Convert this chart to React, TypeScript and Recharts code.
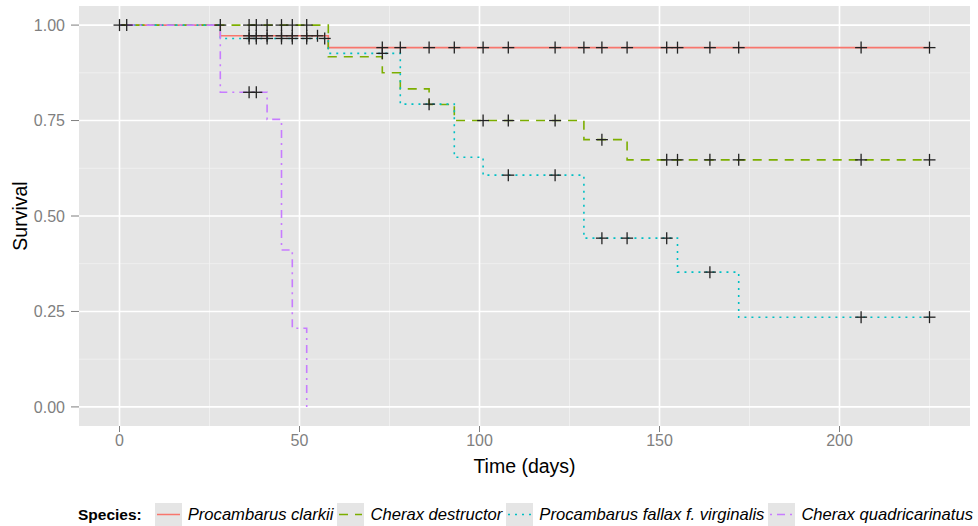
import React from 'react';
import {
  CartesianGrid,
  ComposedChart,
  Line,
  Scatter,
  XAxis,
  YAxis
} from 'recharts';

// step times (days) and survival after each step
const clarkiiTimes = [0, 28, 58, 225];
const clarkiiSurv = [1, 0.972, 0.941, 0.941];
const destructorTimes = [0, 58, 73, 78, 86, 93, 129, 141, 225];
const destructorSurv = [1, 0.917, 0.875, 0.833, 0.792, 0.75, 0.7, 0.647, 0.647];
const virginalisTimes = [0, 28, 58, 78, 93, 101, 129, 155, 172, 225];
const virginalisSurv = [1, 0.965, 0.926, 0.793, 0.654, 0.607, 0.442, 0.353, 0.235, 0.235];
const quadriTimes = [0, 28, 41, 45, 48, 52];
const quadriSurv = [1, 0.824, 0.753, 0.411, 0.206, 0];

// censored observations
const clarkiiCensorTimes = [36, 38, 41, 45, 48, 52, 55, 73, 78, 86, 93, 101, 108, 121, 129, 134, 141, 152, 155, 164, 172, 206, 225];
const clarkiiCensorSurv = [0.972, 0.972, 0.972, 0.972, 0.972, 0.972, 0.972, 0.941, 0.941, 0.941, 0.941, 0.941, 0.941, 0.941, 0.941, 0.941, 0.941, 0.941, 0.941, 0.941, 0.941, 0.941, 0.941];
const destructorCensorTimes = [28, 36, 38, 41, 45, 48, 52, 101, 108, 121, 134, 152, 155, 164, 172, 206, 225];
const destructorCensorSurv = [1, 1, 1, 1, 1, 1, 1, 0.75, 0.75, 0.75, 0.7, 0.647, 0.647, 0.647, 0.647, 0.647, 0.647];
const virginalisCensorTimes = [36, 38, 41, 45, 48, 52, 57, 73, 86, 108, 121, 134, 141, 152, 164, 206, 225];
const virginalisCensorSurv = [0.965, 0.965, 0.965, 0.965, 0.965, 0.965, 0.965, 0.926, 0.793, 0.607, 0.607, 0.442, 0.442, 0.442, 0.353, 0.235, 0.235];
const quadriCensorTimes = [0, 2, 36, 38];
const quadriCensorSurv = [1, 1, 0.824, 0.824];

const xTicks = [0, 50, 100, 150, 200];
const yTicks = [0, 0.25, 0.5, 0.75, 1];
const xMinor = [25, 75, 125, 175, 225];
const yMinor = [0.125, 0.375, 0.625, 0.875];

const zip = (t: number[], s: number[]) => t.map((v, i) => ({ t: v, s: s[i] }));

const series = [
  { name: 'Procambarus clarkii', color: '#F8766D', dash: undefined, steps: zip(clarkiiTimes, clarkiiSurv), censor: zip(clarkiiCensorTimes, clarkiiCensorSurv) },
  { name: 'Cherax destructor', color: '#7CAE00', dash: '9 7', steps: zip(destructorTimes, destructorSurv), censor: zip(destructorCensorTimes, destructorCensorSurv) },
  { name: 'Procambarus fallax f. virginalis', color: '#00BFC4', dash: '2 5', steps: zip(virginalisTimes, virginalisSurv), censor: zip(virginalisCensorTimes, virginalisCensorSurv) },
  { name: 'Cherax quadricarinatus', color: '#C77CFF', dash: '2 5 8 5', steps: zip(quadriTimes, quadriSurv), censor: zip(quadriCensorTimes, quadriCensorSurv) }
];

const FONT = '"Liberation Sans", Arial, sans-serif';

const Cross = (props: any) => {
  const { cx, cy } = props;
  if (cx == null || cy == null) return null;
  return (
    <g stroke="#222" strokeWidth={1.3}>
      <line x1={cx - 6} y1={cy} x2={cx + 6} y2={cy} />
      <line x1={cx} y1={cy - 6} x2={cx} y2={cy + 6} />
    </g>
  );
};

function LegendKey({ color, dash }: { color: string; dash?: string }) {
  return (
    <svg width={27} height={23} style={{ display: 'block' }}>
      <rect x={0} y={0} width={27} height={23} fill="#E5E5E5" />
      <line x1={2} y1={11.5} x2={25} y2={11.5} stroke={color} strokeWidth={1.5} strokeDasharray={dash} />
    </svg>
  );
}

export default function App() {
  return (
    <div style={{ position: 'absolute', left: 0, top: 0, width: 978, height: 526, background: '#fff', fontFamily: FONT }}>
      <ComposedChart width={978} height={526} margin={{ top: 6, right: 8, left: 0, bottom: 50 }}>
        <CartesianGrid fill="#E5E5E5" stroke="#F2F2F2" strokeWidth={0.8} verticalValues={xMinor} horizontalValues={yMinor} />
        <CartesianGrid fill="none" stroke="#FFFFFF" strokeWidth={1.6} verticalValues={xTicks} horizontalValues={yTicks} />
        <XAxis
          type="number"
          dataKey="t"
          domain={[-11.25, 236.25]}
          allowDataOverflow
          ticks={xTicks}
          height={50}
          axisLine={false}
          tickSize={6}
          tickMargin={3}
          tickLine={{ stroke: '#7F7F7F' }}
          tick={{ fill: '#7F7F7F', fontSize: 16, fontFamily: FONT }}
          label={{ value: 'Time (days)', position: 'insideBottom', offset: 3, fill: '#000', fontSize: 19.5, fontFamily: FONT }}
        />
        <YAxis
          type="number"
          dataKey="s"
          domain={[-0.05, 1.05]}
          allowDataOverflow
          ticks={yTicks}
          width={79}
          axisLine={false}
          tickSize={8}
          tickMargin={6}
          tickLine={{ stroke: '#7F7F7F' }}
          tickFormatter={(v: number) => v.toFixed(2)}
          tick={{ fill: '#7F7F7F', fontSize: 16, fontFamily: FONT }}
          label={{ value: 'Survival', angle: -90, position: 'insideLeft', offset: 20, fill: '#000', fontSize: 19.5, fontFamily: FONT, style: { textAnchor: 'middle' } }}
        />
        {series.map((sr) => (
          <Line
            key={sr.name}
            data={sr.steps}
            dataKey="s"
            type="stepAfter"
            stroke={sr.color}
            strokeWidth={1.6}
            strokeDasharray={sr.dash}
            dot={false}
            activeDot={false}
            isAnimationActive={false}
          />
        ))}
        {series.map((sr) => (
          <Scatter key={sr.name + '-c'} data={sr.censor} dataKey="s" shape={<Cross />} isAnimationActive={false} />
        ))}
      </ComposedChart>
      <div
        style={{
          position: 'absolute',
          top: 503,
          left: 78,
          display: 'flex',
          alignItems: 'center',
          color: '#000',
          whiteSpace: 'nowrap'
        }}
      >
        <span style={{ fontWeight: 'bold', fontSize: 15.5, marginRight: 13 }}>Species:</span>
        {series.map((sr) => (
          <React.Fragment key={sr.name}>
            <LegendKey color={sr.color} dash={sr.dash} />
            <span style={{ fontStyle: 'italic', fontSize: 16.6, marginLeft: 6, marginRight: 4 }}>{sr.name}</span>
          </React.Fragment>
        ))}
      </div>
    </div>
  );
}
